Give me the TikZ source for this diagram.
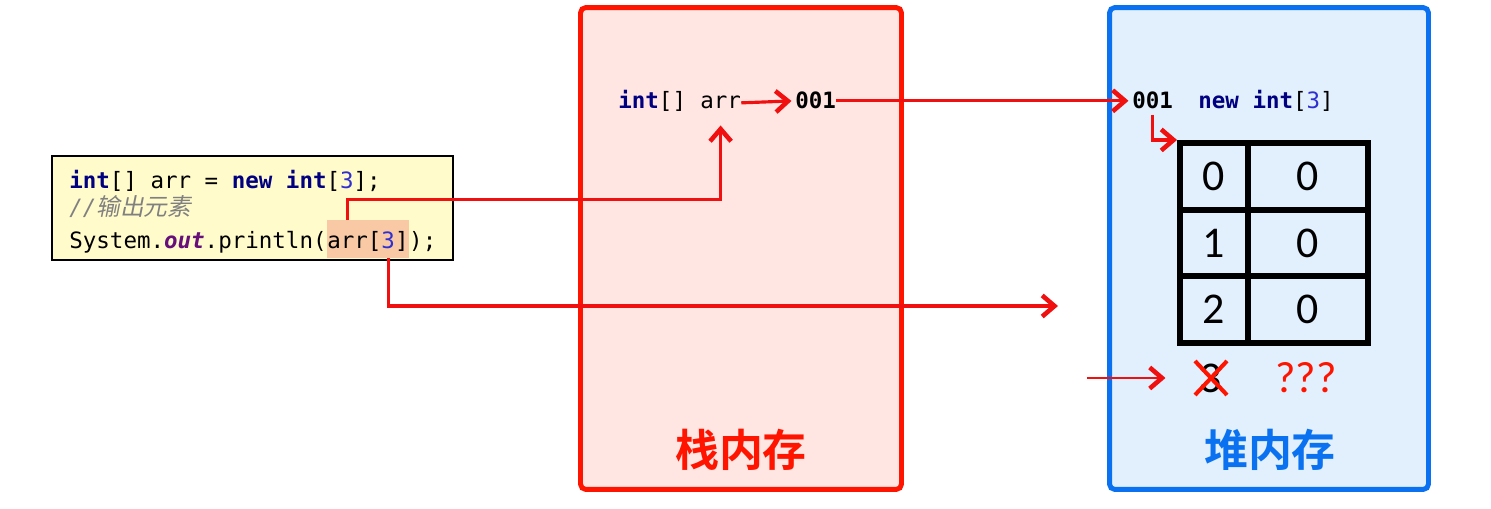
\documentclass[tikz,border=0pt]{standalone}
\usepackage{fontspec}
\setmainfont{Carlito}
\setmonofont{DejaVu Sans Mono}
\newfontfamily\cjk{Noto Sans CJK SC}[BoldFont={Noto Sans CJK SC Bold}]
\newfontfamily\cjkslant{Noto Sans CJK SC}[FakeSlant=0.2]
\usetikzlibrary{positioning,arrows.meta}
\definecolor{stackred}{HTML}{FF1400}
\definecolor{stackpink}{HTML}{FFE6E3}
\definecolor{heapblue}{HTML}{0A72F0}
\definecolor{heapfill}{HTML}{E2EFFD}
\definecolor{codefill}{HTML}{FFFBCB}
\definecolor{hlfill}{HTML}{F8C9A4}
\definecolor{kwnavy}{HTML}{000080}
\definecolor{numblue}{HTML}{3030D0}
\definecolor{fieldpurple}{HTML}{660E7A}
\definecolor{commentgray}{HTML}{808080}
\definecolor{ptrred}{HTML}{F01010}
% keyword, literal and field colouring of the code
\newcommand{\kw}[1]{\textcolor{kwnavy}{\bfseries #1}}
\newcommand{\lit}[1]{\textcolor{numblue}{#1}}
\newcommand{\fld}[1]{\textcolor{fieldpurple}{\bfseries\itshape #1}}

\tikzset{
    codetext/.style={font=\ttfamily\fontsize{12.8}{15}\selectfont, inner sep=0pt, anchor=base west},
    hl/.style={fill=hlfill, text height=16.4pt, text depth=5.1pt},
    memarea/.style={line width=2.8pt, rounded corners=3pt, minimum height=9.64cm},
    arealabel/.style={font=\cjk\bfseries\fontsize{25}{28}\selectfont},
    cell/.style={draw, line width=3.4pt, inner sep=0pt, minimum height=1.334cm, font=\fontsize{25}{28}\selectfont},
    ptr/.style={draw=ptrred, line width=1.8pt, -{Straight Barb[length=7pt,width=12pt,line width=2.6pt]}}
}

\begin{document}
\begin{tikzpicture}[x=0.02cm, y=-0.02cm]
    \useasboundingbox (0,0) rectangle (1491,509);
    \fill[white] (0,0) rectangle (1491,509);

    % stack and heap areas
    \node[memarea, draw=stackred, fill=stackpink, minimum width=6.42cm] (stack) at (741,248.5) {};
    \node[memarea, draw=heapblue, fill=heapfill, minimum width=6.38cm] (heap) at (1269,248.5) {};
    \node[arealabel, text=stackred] (stacklabel) at (741,450) {栈内存};
    \node[arealabel, text=heapblue] (heaplabel) at (1270,450) {堆内存};

    % the code
    \node[draw, line width=1.2pt, fill=codefill, minimum width=8.02cm, minimum height=2.08cm] (codebox) at (252.5,208) {};
    \node[codetext] (line1) at (69,189) {\kw{int}[] arr = \kw{new} \kw{int}[\lit{3}];};
    \node[codetext, text=commentgray] (line2) at (69,216) {\itshape //{\cjkslant\fontsize{13.5}{15}\selectfont 输出元素}};
    \node[codetext] (line3) at (69,249) {System.\fld{out}.println(};
    \node[codetext, hl, base right=0pt of line3] (hl) {arr[\lit{3}]};
    \node[codetext, base right=0pt of hl] (line3end) {);};
    \coordinate (hlarr) at ([xshift=-11.55pt]hl.north);
    \coordinate (hlidx) at ([xshift=11.55pt]hl.south);

    % variable on the stack
    \node[codetext] (stint) at (618,109) {\kw{int}[]};
    \node[codetext, base right=7.7pt of stint] (starr) {arr};
    \node[codetext] (staddr) at (795,109) {\bfseries 001};

    % array on the heap
    \node[codetext] (hpaddr) at (1132,109) {\bfseries 001};
    \node[codetext] (hpnew) at (1198,109) {\kw{new} \kw{int}[\lit{3}]};
    \foreach \i in {0,1,2} {
        \node[cell, minimum width=1.35cm] (idx\i) at (1213.75,{176.3+66.7*\i}) {\i};
        \node[cell, minimum width=2.41cm] (val\i) at (1307.75,{176.3+66.7*\i}) {0};
    }
    \node[cell, draw=none, minimum width=1.35cm] (idx3) at (1211,378) {3};
    \node[cell, draw=none, text=stackred] (unknown) at (1306,378) {???};
    \draw[stackred, line width=2.3pt] ([shift={(-16,-17)}]idx3.center) -- ([shift={(16,17)}]idx3.center);
    \draw[stackred, line width=2.3pt] ([shift={(16,-17)}]idx3.center) -- ([shift={(-16,17)}]idx3.center);

    % pointers
    \coordinate (outbound) at (1058,306);
    \coordinate (idxin) at (1087,378);
    \draw[ptr] (hlarr) -- ++(0,-20) -| ([yshift=-9pt]starr.south);
    \draw[ptr] (hlidx) |- (outbound);
    \draw[ptr, shorten >=2pt] (starr.east) -- (staddr.west);
    \draw[ptr, shorten >=2pt] (staddr.east) -- (hpaddr.west);
    \draw[ptr] ([yshift=-3pt]hpaddr.south) |- (idx0.north west);
    \draw[ptr, line width=1.3pt, shorten >=5pt] (idxin) -- (idx3.west);
\end{tikzpicture}
\end{document}
